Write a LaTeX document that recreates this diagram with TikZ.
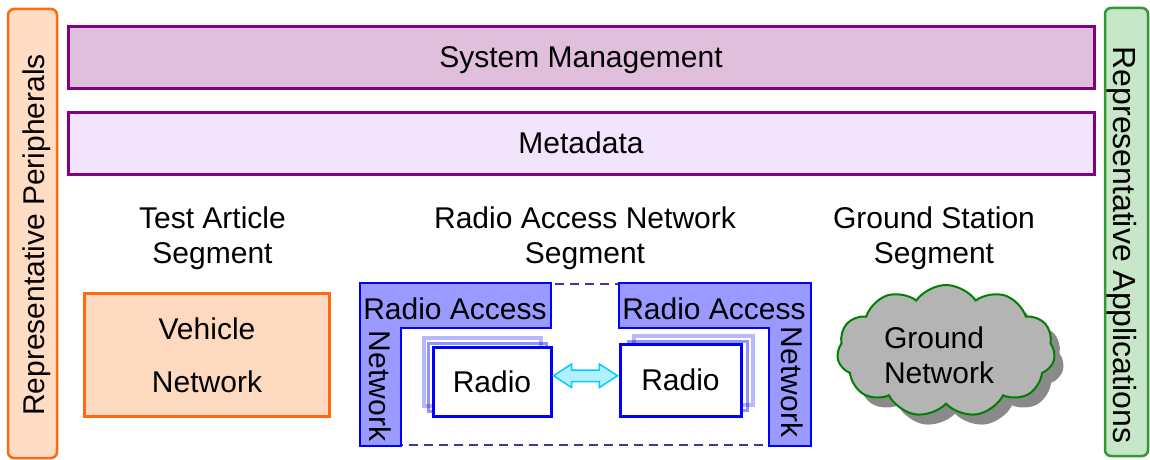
\documentclass[tikz,border=0pt]{standalone}
\usepackage{fontspec}
\setmainfont{Liberation Sans}
\usetikzlibrary{shapes.symbols,shapes.arrows,shadows,calc}
\definecolor{periphFill}{HTML}{FFDCC4}
\definecolor{periphLine}{HTML}{FF6A10}
\definecolor{vehFill}{HTML}{FDD9BF}
\definecolor{appFill}{HTML}{C8E6C8}
\definecolor{appLine}{HTML}{339933}
\definecolor{mgmtFill}{HTML}{E0BFDD}
\definecolor{metaFill}{HTML}{F2E4FD}
\definecolor{purpLine}{HTML}{800080}
\definecolor{ranFill}{HTML}{9999FF}
\definecolor{ranLine}{HTML}{0000FF}
\definecolor{dashLine}{HTML}{3A3A9E}
\definecolor{arrFill}{HTML}{B3F0FF}
\definecolor{arrLine}{HTML}{00CCFF}
\definecolor{cloudFill}{HTML}{B4B4B4}
\definecolor{cloudShadow}{HTML}{8A8A8A}
\definecolor{cloudLine}{HTML}{008000}
\begin{document}
\begin{tikzpicture}[x=1pt,y=-1pt,
  every node/.style={font=\fontsize{30}{35}\selectfont, text depth=0pt, inner sep=0pt},
  sidebar/.style={line width=2.5pt, rounded corners=6pt},
  band/.style={draw=purpLine, line width=3pt, minimum width=1026pt, minimum height=62pt},
  lshape/.style={draw=ranLine, fill=ranFill, line width=2.5pt, line join=miter},
  segdash/.style={draw=dashLine, line width=2.5pt, dash pattern=on 9pt off 6pt},
  ghostA/.style={draw=ranLine, draw opacity=0.28, line width=3.5pt},
  ghostB/.style={draw=ranLine, draw opacity=0.42, line width=3pt},
  radiobox/.style={draw=ranLine, fill=white, line width=3pt},
  darrow/.style={double arrow, draw=arrLine, fill=arrFill, line width=1.5pt,
    minimum height=64pt, minimum width=22pt, inner xsep=0pt, inner ysep=5pt,
    double arrow head extend=6pt, double arrow tip angle=66},
  cloudshape/.style={cloud, cloud puffs=11, cloud puff arc=110, cloud ignores aspect,
    minimum width=218pt, minimum height=132pt, fill=cloudFill, draw=cloudLine, line width=2pt,
    copy shadow={fill=cloudShadow, draw=none, shadow xshift=9pt, shadow yshift=-10pt}}
]
\useasboundingbox (0,0) rectangle (1150,460);

% side bars
\draw[sidebar, draw=periphLine, fill=periphFill] (8,9) rectangle (57,458);
\node[rotate=90] (periph) at (33.5,235) {Representative Peripherals};
\draw[sidebar, draw=appLine, fill=appFill] (1105,8) rectangle (1148,456);
\node[rotate=-90, font=\fontsize{32}{36}\selectfont] (apps) at (1125,245) {Representative Applications};

% bands
\node[band, fill=mgmtFill] (mgmt) at (581,57.5) {System Management};
\node[band, fill=metaFill] (meta) at (581,143) {Metadata};

% headings
\node[align=center] (tas) at (212.5,235) {Test Article\\Segment};
\node[align=center] (rans) at (585,235) {Radio Access Network\\Segment};
\node[align=center] (gss) at (934,235) {Ground Station\\Segment};

% vehicle
\node[draw=periphLine, fill=vehFill, line width=2.5pt, minimum width=245pt, minimum height=123pt,
  align=center, font=\fontsize{30}{53.5}\selectfont] (veh) at (207,355) {Vehicle\\Network};

% radio access network segment
\draw[segdash] (360,284) rectangle (811,445);
\draw[lshape] (360,283) -- (551,283) -- (551,328) -- (401,328) -- (401,446) -- (360,446) -- cycle;
\draw[lshape] (619,283) -- (811,283) -- (811,446) -- (769,446) -- (769,328) -- (619,328) -- cycle;
\node (ranl) at (455,309) {Radio Access};
\node[rotate=-90] (netl) at (380,386) {Network};
\node (ranr) at (714,309) {Radio Access};
\node[rotate=-90] (netr) at (792,382) {Network};

\draw[ghostA] (424,338) rectangle (541,406);
\draw[ghostB] (428.7,343) rectangle (546,411);
\node[radiobox, minimum width=118pt, minimum height=69pt] (rl) at (492,381.5) {Radio};
\draw[ghostA] (634,336) rectangle (753,405);
\draw[ghostB] (628,341) rectangle (747,410);
\node[radiobox, minimum width=121pt, minimum height=72pt] (rr) at (680.5,380) {Radio};

\node[darrow] (arr) at ($(rl.east)!0.5!(rr.west)+(0,-5)$) {};

% ground network cloud
\node[cloudshape] (cl) at (946,351) {};
\node[align=left, font=\fontsize{30}{35.5}\selectfont] (gn) at (939,355) {Ground\\Network};
\end{tikzpicture}
\end{document}
